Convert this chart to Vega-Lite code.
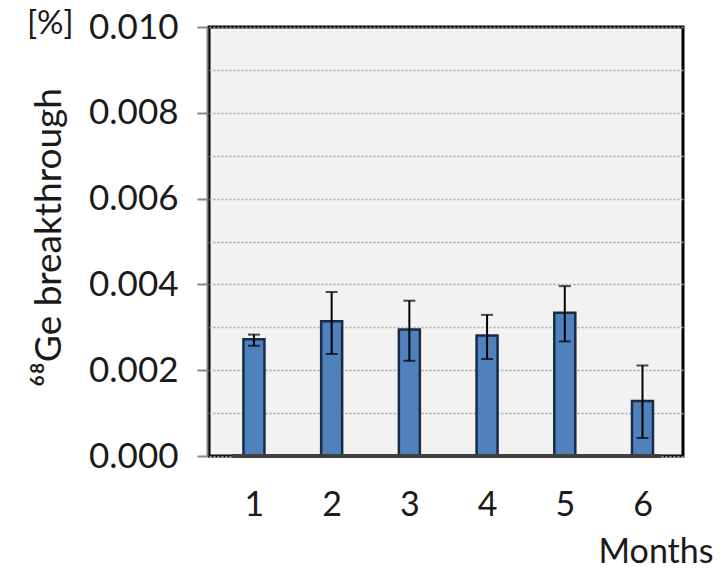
{
  "$schema": "https://vega.github.io/schema/vega-lite/v6.json",
  "autosize": {"type": "none"},
  "padding": {"left": 209, "top": 27, "right": 38, "bottom": 116},
  "width": 474,
  "height": 429,
  "background": "white",
  "config": {
    "view": {"fill": "#F2F2F2", "stroke": "#000000", "strokeWidth": 3},
    "font": "Lato"
  },
  "data": {"values": [
    {"month": 1, "value": 0.00272, "low": 0.00257, "high": 0.00283},
    {"month": 2, "value": 0.00314, "low": 0.00238, "high": 0.00382},
    {"month": 3, "value": 0.00295, "low": 0.00222, "high": 0.00362},
    {"month": 4, "value": 0.00281, "low": 0.00226, "high": 0.00329},
    {"month": 5, "value": 0.00334, "low": 0.00267, "high": 0.00396},
    {"month": 6, "value": 0.00128, "low": 0.00042, "high": 0.00211}
  ]},
  "layer": [
    {
      "mark": {"type": "bar", "size": 21, "color": "#4F81BD", "stroke": "#1B2A47", "strokeWidth": 2.5},
      "encoding": {
        "x": {"field": "month", "type": "quantitative",
          "scale": {"domain": [0.486, 6.457], "nice": false, "zero": false},
          "axis": {"values": [1, 2, 3, 4, 5, 6], "format": "d", "grid": false, "ticks": false, "domain": false,
            "labelFontSize": 34, "labelFont": "Lato", "labelColor": "#1a1a1a", "labelPadding": 32, "labelFlush": false,
            "title": "Months", "titleFontSize": 34, "titleFont": "Lato", "titleFontWeight": "normal", "titleColor": "#1a1a1a",
            "titleAnchor": "end", "titleAlign": "right", "titleX": 504, "titleY": 96, "titleBaseline": "middle"}},
        "y": {"field": "value", "type": "quantitative",
          "scale": {"domain": [0, 0.01], "nice": false},
          "axis": {"values": [0, 0.001, 0.002, 0.003, 0.004, 0.005, 0.006, 0.007, 0.008, 0.009, 0.01],
            "format": ".3f",
            "labelExpr": "round(datum.value*1000) % 2 == 0 ? datum.label : ''",
            "tickOpacity": {"condition": {"test": "round(datum.value*1000) % 2 == 0", "value": 1}, "value": 0},
            "grid": true, "gridDash": [2, 2], "gridColor": "#A6A6A6", "gridWidth": 1.5,
            "domainColor": "#868686", "domainWidth": 2, "tickColor": "#868686", "tickWidth": 2, "tickSize": 10,
            "offset": 2,
            "labelFontSize": 35, "labelFont": "Lato", "labelColor": "#1a1a1a", "labelPadding": 19,
            "title": "⁶⁸Ge breakthrough", "titleFontSize": 37, "titleFont": "Lato", "titleFontWeight": "normal", "titleColor": "#1a1a1a",
            "titleAngle": 270, "titleAlign": "center", "titleBaseline": "middle", "titleX": -158, "titleY": 210}}
      }
    },
    {
      "mark": {"type": "rule", "color": "#404040", "strokeWidth": 3},
      "encoding": {
        "x": {"datum": 0.725, "type": "quantitative"},
        "x2": {"datum": 6.23},
        "y": {"datum": 0, "type": "quantitative"}
      }
    },
    {
      "mark": {"type": "errorbar", "ticks": {"size": 12, "thickness": 2, "color": "#000000"}, "rule": {"strokeWidth": 2, "color": "#000000"}, "color": "#000000"},
      "encoding": {
        "x": {"field": "month", "type": "quantitative"},
        "y": {"field": "low", "type": "quantitative", "title": "⁶⁸Ge breakthrough"},
        "y2": {"field": "high"}
      }
    },
    {
      "data": {"values": [{"label": "[%]"}]},
      "mark": {"type": "text", "fontSize": 33, "font": "Lato", "color": "#1a1a1a", "align": "center", "baseline": "middle"},
      "encoding": {
        "text": {"field": "label", "type": "nominal"},
        "x": {"datum": -1.62, "type": "quantitative"},
        "y": {"datum": 0.01006, "type": "quantitative"}
      }
    }
  ]
}
